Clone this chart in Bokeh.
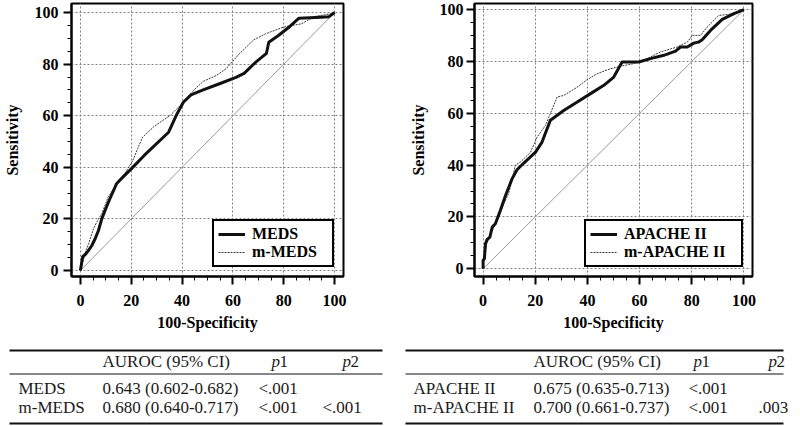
from bokeh.plotting import figure
from bokeh.models import SingleIntervalTicker, Legend, LegendItem
from bokeh.layouts import row, column
from bokeh.embed import file_html
from bokeh.resources import INLINE
from bokeh.core.properties import value

# ---------------- data ----------------
meds_x = [0, 0.9, 1.9, 3.0, 4.5, 5.8, 7.1, 8.4, 9.7, 11.6, 14.2, 16.7, 20.0, 25.1, 34.7, 38.0, 40.5,
          43.5, 48.3, 54.7, 61.2, 64.4, 69.0, 73.2, 74.1, 77.9, 82.4, 86.0, 94.6, 97.8, 100]
meds_y = [0, 5.4, 6.2, 7.5, 9.7, 12.3, 15.5, 20.0, 23.3, 27.8, 33.6, 36.2, 39.4, 44.6, 53.6, 60.7, 65.2,
          68.1, 70.0, 72.4, 74.9, 76.4, 80.8, 84.2, 88.5, 91.1, 94.6, 97.8, 98.2, 98.4, 100]
mmeds_x = [0, 1.3, 2.2, 3.2, 5.1, 6.4, 8.4, 10.9, 13.5, 17.4, 20.6, 22.5, 24.5, 28.9, 35.3, 40.5, 45.1,
           48.3, 53.5, 57.3, 62.5, 68.2, 72.7, 79.8, 83.0, 86.9, 92.0, 98.4, 100]
mmeds_y = [0, 4.5, 7.8, 10.3, 16.1, 18.7, 22.0, 28.4, 32.3, 37.5, 42.6, 47.2, 51.7, 55.8, 60.1, 65.2, 70.4,
           73.3, 75.6, 78.2, 84.0, 89.4, 91.7, 94.3, 95.0, 95.6, 98.4, 99.5, 100]

apache_x = [0, 0, 0.5, 0.9, 1.5, 2.6, 3.5, 4.7, 6.6, 8.6, 11.1, 13.0, 15.6, 20.1, 22.6, 25.8, 30.9, 36.1,
            41.2, 46.3, 50.1, 53.3, 59.7, 64.2, 69.3, 73.8, 75.7, 78.3, 80.8, 82.7, 84.0, 87.2, 91.7, 96.2, 100]
apache_y = [0, 3.2, 3.9, 9.6, 11.2, 12.2, 16.1, 17.4, 22.5, 28.3, 34.7, 38.2, 40.8, 45.0, 48.9, 57.3, 61.1, 64.4,
            67.6, 70.8, 74.0, 79.8, 79.8, 81.1, 82.4, 84.0, 85.6, 85.6, 87.1, 87.5, 88.4, 92.0, 96.3, 98.5, 100]
mapache_x = [0, 0.3, 1.3, 2.8, 4.1, 6.0, 7.9, 9.8, 12.4, 14.3, 18.2, 20.7, 23.9, 28.4, 30.9, 36.1, 39.9,
             43.7, 48.8, 53.3, 57.8, 62.9, 68.0, 74.4, 78.3, 80.2, 83.4, 85.9, 90.4, 94.2, 100]
mapache_y = [0, 3.9, 9.6, 12.9, 16.1, 20.0, 25.1, 29.0, 40.0, 41.2, 45.0, 50.8, 55.3, 66.3, 66.9, 70.1, 73.0,
             75.3, 77.2, 78.3, 79.2, 81.1, 83.7, 85.6, 87.5, 90.1, 90.1, 93.3, 97.8, 98.2, 100]

diag_x = [0, 100]
diag_y = [0, 100]

x_title = "100-Specificity"
y_title = "Sensitivity"

header = ["AUROC (95% CI)"]
left_rows = ["MEDS", "m-MEDS"]
left_auroc = ["0.643 (0.602-0.682)", "0.680 (0.640-0.717)"]
left_p1 = ["<.001", "<.001"]
left_p2 = ["", "<.001"]

right_rows = ["APACHE II", "m-APACHE II"]
right_auroc = ["0.675 (0.635-0.713)", "0.700 (0.661-0.737)"]
right_p1 = ["<.001", "<.001"]
right_p2 = ["", ".003"]

SERIF = "Liberation Serif"


def roc(x1, y1, lab1, x2, y2, lab2, xr, yr, bl, br, lab_standoff, tick_standoff, label_w):
    p = figure(width=400, height=345, x_range=xr, y_range=yr, output_backend="svg",
               toolbar_location=None, min_border_left=bl, min_border_right=br,
               min_border_top=3, min_border_bottom=69)
    p.background_fill_color = "white"
    p.border_fill_color = "white"
    p.outline_line_color = "black"
    p.outline_line_width = 2
    for ax in (p.xaxis[0], p.yaxis[0]):
        ax.ticker = SingleIntervalTicker(interval=20, num_minor_ticks=4)
        ax.major_label_text_font = SERIF
        ax.major_label_text_font_style = "bold"
        ax.major_label_text_font_size = "16px"
        ax.major_label_text_color = "black"
        ax.axis_label_text_font = SERIF
        ax.axis_label_text_font_style = "bold"
        ax.axis_label_text_font_size = "16px"
        ax.axis_label_text_color = "black"
        ax.axis_line_width = 2
        ax.axis_line_color = "black"
        ax.major_tick_in = 0
        ax.major_tick_out = 8
        ax.minor_tick_in = 0
        ax.minor_tick_out = 4
        ax.major_tick_line_width = 2
        ax.minor_tick_line_width = 1
        ax.major_tick_line_color = "black"
        ax.minor_tick_line_color = "black"
    p.xaxis.axis_label = x_title
    p.yaxis.axis_label = y_title
    p.xaxis.major_label_standoff = 10
    p.xaxis.axis_label_standoff = 5
    p.yaxis.major_label_standoff = tick_standoff
    p.yaxis.axis_label_standoff = lab_standoff
    for g in (p.xgrid[0], p.ygrid[0]):
        g.grid_line_color = "#808080"
        g.grid_line_dash = "2 2"
        g.grid_line_width = 1

    p.line(diag_x, diag_y, line_color="#9a9a9a", line_width=1)
    r2 = p.line(x2, y2, line_color="#3a3a3a", line_width=1, line_dash="2 1")
    r1 = p.line(x1, y1, line_color="#111111", line_width=3, line_join="round")

    leg = Legend(items=[LegendItem(label=lab1, renderers=[r1]),
                        LegendItem(label=lab2, renderers=[r2])],
                 location="bottom_right")
    leg.margin = 9
    leg.padding = 4
    leg.spacing = -3
    leg.glyph_width = 27
    leg.glyph_height = 16
    leg.label_height = 16
    leg.label_width = label_w
    leg.label_standoff = 7
    leg.label_text_font = SERIF
    leg.label_text_font_style = "bold"
    leg.label_text_font_size = "16px"
    leg.label_text_color = "black"
    leg.border_line_color = "black"
    leg.border_line_width = 2
    leg.border_line_alpha = 1
    leg.background_fill_color = "white"
    leg.background_fill_alpha = 1
    p.add_layout(leg)
    return p


def table(rows, auroc, p1, p2, xs):
    # xs: line_start, line_end, col1, col2, p1_p, p1_val, p2_p, p2_val
    t = figure(width=400, height=81, x_range=(0, 400), y_range=(81, 0), output_backend="svg",
               toolbar_location=None, min_border=0, x_axis_type=None, y_axis_type=None)
    t.outline_line_color = None
    t.background_fill_color = "white"
    t.border_fill_color = "white"
    l0, l1, c1, c2, pp1, pv1, pp2, pv2 = xs
    y_top, y_head, y_sep, y_r, y_bot = 5, 16, 28.5, [43, 62], 78
    t.segment(x0=[l0, l0], y0=[y_top, y_bot], x1=[l1, l1], y1=[y_top, y_bot],
              line_color="#111111", line_width=2.2)
    t.segment(x0=[l0], y0=[y_sep], x1=[l1], y1=[y_sep], line_color="#111111", line_width=1)
    font = dict(text_font=value(SERIF), text_font_size=value("17px"), text_baseline="middle",
                text_align="left", text_color="#1a1a1a")
    t.text(x=[c2], y=[y_head], text=header, **font)
    t.text(x=[pp1, pp2], y=[y_head, y_head], text=["p", "p"], text_font_style="italic", **font)
    t.text(x=[pp1 + 8, pp2 + 8], y=[y_head, y_head], text=["1", "2"], **font)
    t.text(x=[c1, c1], y=y_r, text=rows, **font)
    t.text(x=[c2, c2], y=y_r, text=auroc, **font)
    t.text(x=[pv1, pv1], y=y_r, text=p1, **font)
    t.text(x=[pv2, pv2], y=y_r, text=p2, **font)
    return t


roc_l = roc(meds_x, meds_y, "MEDS", mmeds_x, mmeds_y, "m-MEDS",
            (-3.5, 103.5), (-2.33, 103.5), 66, 57, 11, 5, 76)
roc_r = roc(apache_x, apache_y, "APACHE II", mapache_x, mapache_y, "m-APACHE II",
            (-3.3, 103.3), (-3.0, 102.4), 74, 48, 10, 3, 113)

tab_l = table(left_rows, left_auroc, left_p1, left_p2, (9, 382, 18, 102, 271, 258, 342, 322))
tab_r = table(right_rows, right_auroc, right_p1, right_p2, (5, 383, 13, 133, 293, 288, 368, 358))

layout = column(row(roc_l, roc_r), row(tab_l, tab_r))

open("out.html", "w").write(file_html(layout, INLINE))
